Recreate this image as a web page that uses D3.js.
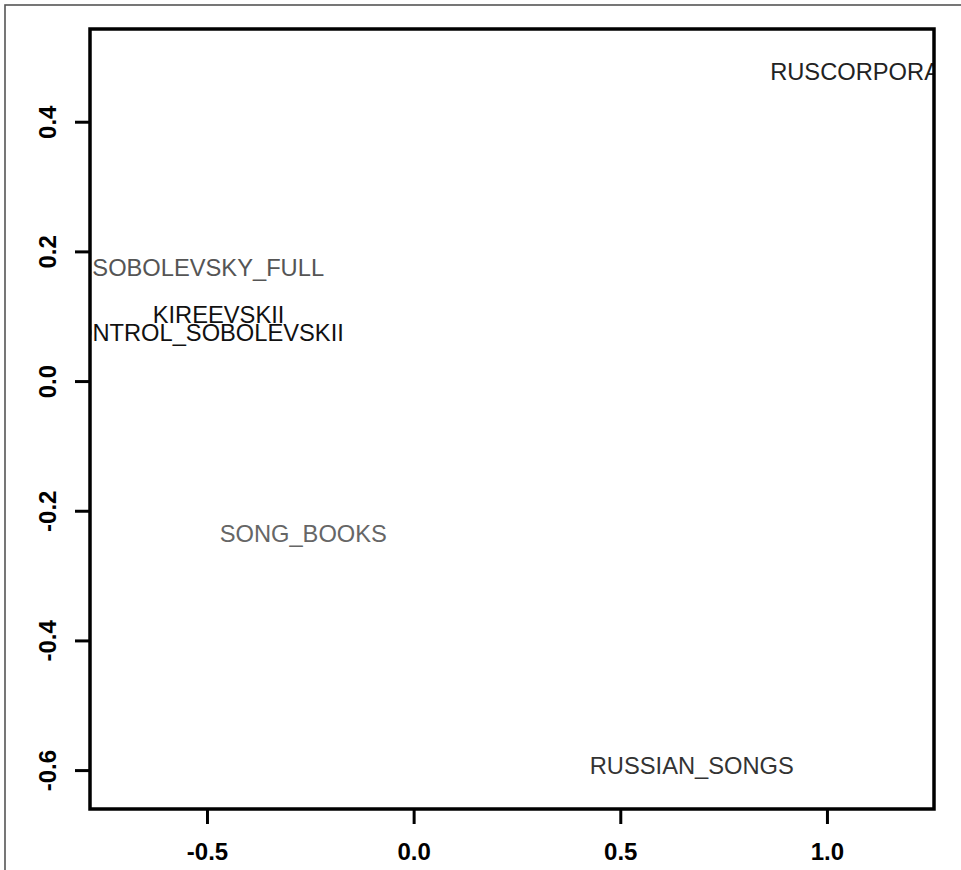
<!DOCTYPE html>
<html lang="en">
<head>
    <meta charset="UTF-8">
    <title>Corpora scatter</title>
    <script src="https://d3js.org/d3.v7.min.js"></script>
    <style>
        body { margin: 0; background: #fff; }
        text { font-family: "Liberation Sans", Arial, sans-serif; }
    </style>
</head>
<body>
<svg></svg>
<script>
    // Data
    const labels = ["RUSCORPORA", "SOBOLEVSKY_FULL", "KIREEVSKII", "CONTROL_SOBOLEVSKII", "SONG_BOOKS", "RUSSIAN_SONGS"];
    const xs = [1.068, -0.497, -0.472, -0.516, -0.267, 0.673];
    const ys = [0.477, 0.174, 0.102, 0.074, -0.236, -0.593];
    const colors = ["#222", "#555", "#111", "#111", "#666", "#333"];
    const xTicks = [-0.5, 0.0, 0.5, 1.0];
    const yTicks = [-0.6, -0.4, -0.2, 0.0, 0.2, 0.4];

    const W = 961, H = 870;
    const box = { left: 90, top: 29, right: 934, bottom: 809 };

    const svg = d3.select("svg").attr("width", W).attr("height", H);

    // outer frame (cropped on right/bottom)
    svg.append("rect")
        .attr("x", 5).attr("y", 5)
        .attr("width", W + 20).attr("height", H + 20)
        .attr("fill", "none").attr("stroke", "#555").attr("stroke-width", 1.6);

    const x = d3.scaleLinear().domain([-0.783, 1.259]).range([box.left, box.right]);
    const y = d3.scaleLinear().domain([-0.660, 0.543]).range([box.bottom, box.top]);

    svg.append("clipPath").attr("id", "clip")
        .append("rect")
        .attr("x", box.left).attr("y", box.top)
        .attr("width", box.right - box.left).attr("height", box.bottom - box.top);

    // labels as points
    const pts = labels.map((d, i) => ({ label: d, x: xs[i], y: ys[i], color: colors[i] }));
    svg.append("g").attr("clip-path", "url(#clip)")
        .selectAll("text")
        .data(pts)
        .enter()
        .append("text")
        .attr("x", d => x(d.x))
        .attr("y", d => y(d.y))
        .attr("text-anchor", "middle")
        .attr("dominant-baseline", "central")
        .style("font-size", "23.7px")
        .attr("fill", d => d.color)
        .text(d => d.label);

    const fmt = d => d3.format(".1f")(d).replace("−", "-");

    // x axis
    const xAxis = svg.append("g")
        .attr("transform", `translate(0, ${box.bottom})`)
        .call(d3.axisBottom(x).tickValues(xTicks).tickSize(15));
    xAxis.select(".domain").remove();
    xAxis.selectAll("line").attr("stroke", "#000").attr("stroke-width", 3);
    xAxis.selectAll("text")
        .attr("y", 51).attr("dy", null)
        .attr("fill", "#000")
        .style("font-size", "24px")
        .style("font-weight", "bold")
        .text(fmt);

    // y axis
    const yAxis = svg.append("g")
        .attr("transform", `translate(${box.left}, 0)`)
        .call(d3.axisLeft(y).tickValues(yTicks).tickSize(15));
    yAxis.select(".domain").remove();
    yAxis.selectAll("line").attr("stroke", "#000").attr("stroke-width", 3);
    yAxis.selectAll("text").remove();
    yAxis.selectAll(".tick")
        .append("text")
        .attr("transform", "translate(-34, 0) rotate(-90)")
        .attr("text-anchor", "middle")
        .attr("fill", "#000")
        .style("font-size", "24px")
        .style("font-weight", "bold")
        .text(fmt);

    // plot box
    svg.append("rect")
        .attr("x", box.left).attr("y", box.top)
        .attr("width", box.right - box.left).attr("height", box.bottom - box.top)
        .attr("fill", "none").attr("stroke", "#000").attr("stroke-width", 3.5);
</script>
</body>
</html>
